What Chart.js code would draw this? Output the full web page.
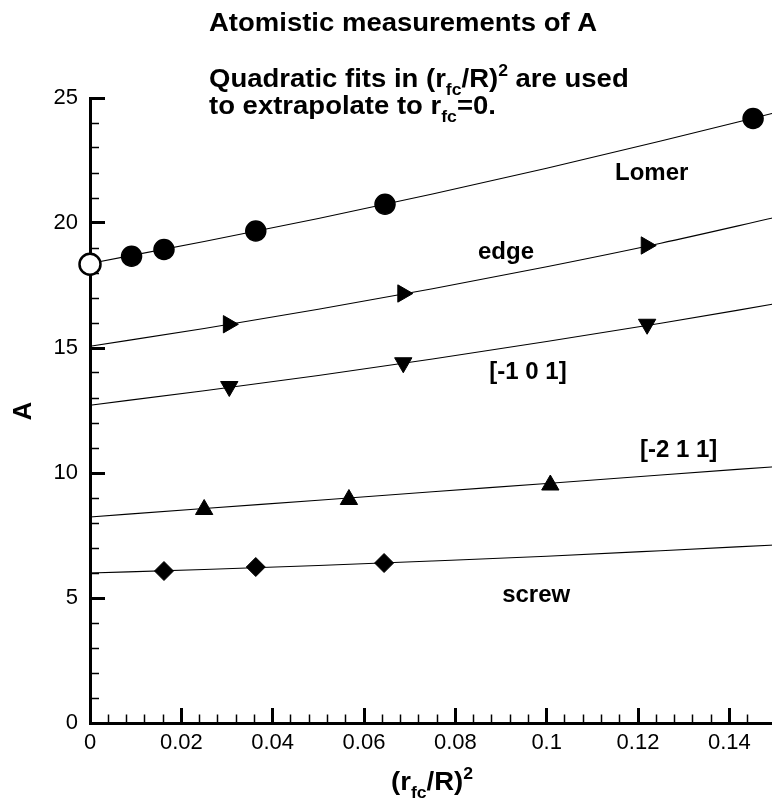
<!DOCTYPE html>
<html>
<head>
<meta charset="utf-8">
<title>Atomistic measurements of A</title>
<script src="https://cdn.jsdelivr.net/npm/chart.js@4.4.1/dist/chart.umd.min.js"></script>
<style>
  html, body { margin: 0; padding: 0; background: #fff; overflow: hidden; }
  #wrap { position: relative; width: 797px; height: 805px; }
</style>
</head>
<body>
<div id="wrap"><canvas id="chart"></canvas></div>
<script>
// ── measured points, x = (r_fc/R)^2 ──
const LOMER_X = [0.0091, 0.0162, 0.0363, 0.0646, 0.1452];
const LOMER_A = [18.67, 18.94, 19.68, 20.75, 24.18];
const LOMER_EXTRAP_X = [0];
const LOMER_EXTRAP_A = [18.35];
const EDGE_X = [0.0303, 0.0685, 0.1218];
const EDGE_A = [15.95, 17.18, 19.10];
const M101_X = [0.0305, 0.0686, 0.1220];
const M101_A = [13.46, 14.41, 15.95];
const M211_X = [0.0250, 0.0567, 0.1008];
const M211_A = [8.54, 8.94, 9.52];
const SCREW_X = [0.0162, 0.0363, 0.0644];
const SCREW_A = [6.08, 6.24, 6.40];

// ── quadratic fit curves ──
const FIT_X = [0, 0.025, 0.05, 0.075, 0.1, 0.125, 0.15];
const LOMER_FIT = [18.38, 19.26, 20.18, 21.16, 22.19, 23.28, 24.41];
const EDGE_FIT = [15.07, 15.78, 16.55, 17.37, 18.25, 19.19, 20.22];
const M101_FIT = [12.71, 13.29, 13.90, 14.56, 15.26, 15.99, 16.77];
const M211_FIT = [8.24, 8.58, 8.91, 9.25, 9.58, 9.92, 10.25];
const SCREW_FIT = [6.00, 6.14, 6.30, 6.48, 6.67, 6.89, 7.12];

// ── labels ──
const X_TICK_LABELS = ['0', '0.02', '0.04', '0.06', '0.08', '0.1', '0.12', '0.14'];
const Y_TICK_LABELS = ['0', '5', '10', '15', '20', '25'];
const CURVE_LABELS = ['Lomer', 'edge', '[-1 0 1]', '[-2 1 1]', 'screw'];

// where the curve labels sit (data coords, baseline centre)
const LABEL_AT = [
  { x: 0.1230, y: 21.71 },
  { x: 0.0911, y: 18.58 },
  { x: 0.0959, y: 13.78 },
  { x: 0.1289, y: 10.64 },
  { x: 0.0977, y: 4.84 },
];

const FONT = "'Liberation Sans', Arial, Helvetica, sans-serif";
const BLACK = '#000';

const pts = (xs, ys) => xs.map((x, i) => ({ x, y: ys[i] }));

function markers(xs, ys, style, extra) {
  return Object.assign({
    data: pts(xs, ys),
    showLine: false,
    pointStyle: style,
    pointRadius: 10,
    pointBorderWidth: 1,
    pointBackgroundColor: BLACK,
    pointBorderColor: BLACK,
    clip: false,
  }, extra || {});
}

function fitLine(ys) {
  return {
    data: pts(FIT_X, ys),
    showLine: true,
    borderColor: BLACK,
    borderWidth: 1.2,
    pointRadius: 0,
    cubicInterpolationMode: 'monotone',
    fill: false,
  };
}

// text with sub/superscripts: parts = [[text, 'sub'|'sup'|undefined], ...]
// sx stretches the glyphs sideways (the original font runs a bit wide)
function drawRich(ctx, x, y, parts, size, align, sx) {
  sx = sx || 1;
  const big = `bold ${size}px ${FONT}`;
  const small = `bold ${Math.round(size * 0.62)}px ${FONT}`;
  let total = 0;
  parts.forEach(p => { ctx.font = p[1] ? small : big; total += ctx.measureText(p[0]).width; });
  ctx.save();
  ctx.translate(align === 'center' ? x - total * sx / 2 : x, y);
  ctx.scale(sx, 1);
  let cx = 0;
  parts.forEach(p => {
    ctx.font = p[1] ? small : big;
    const dy = p[1] === 'sub' ? size * 0.3 : p[1] === 'sup' ? -size * 0.45 : 0;
    ctx.fillText(p[0], cx, dy);
    cx += ctx.measureText(p[0]).width;
  });
  ctx.restore();
}

const annotations = {
  id: 'annotations',
  afterDraw(chart) {
    const { ctx, scales: { x, y } } = chart;
    ctx.save();
    ctx.fillStyle = BLACK;
    ctx.textAlign = 'left';
    ctx.textBaseline = 'alphabetic';

    // title block
    drawRich(ctx, 209, 31, [['Atomistic measurements of A']], 25, 'left', 1.1);
    drawRich(ctx, 209, 87, [['Quadratic fits in (r'], ['fc', 'sub'], ['/R)'], ['2', 'sup'], [' are used']], 25, 'left', 1.1);
    drawRich(ctx, 209, 114, [['to extrapolate to r'], ['fc', 'sub'], ['=0.']], 25, 'left', 1.1);

    // curve labels
    ctx.font = `bold 24px ${FONT}`;
    ctx.textAlign = 'center';
    CURVE_LABELS.forEach((t, i) => {
      ctx.fillText(t, x.getPixelForValue(LABEL_AT[i].x), y.getPixelForValue(LABEL_AT[i].y));
    });

    // axis titles
    ctx.textAlign = 'left';
    drawRich(ctx, 432, 790, [['(r'], ['fc', 'sub'], ['/R)'], ['2', 'sup']], 25, 'center', 1.1);

    ctx.translate(24, 411);
    ctx.rotate(-Math.PI / 2);
    ctx.textAlign = 'center';
    ctx.textBaseline = 'middle';
    ctx.font = `bold 26px ${FONT}`;
    ctx.fillText('A', 0, 0);
    ctx.restore();
  }
};

new Chart(document.getElementById('chart'), {
  type: 'scatter',
  data: {
    datasets: [
      markers(LOMER_EXTRAP_X, LOMER_EXTRAP_A, 'circle', {
        pointRadius: 10.5, pointBorderWidth: 2.5, pointBackgroundColor: '#fff'
      }),
      markers(LOMER_X, LOMER_A, 'circle', { pointRadius: 10, pointBorderWidth: 1.5 }),
      markers(EDGE_X, EDGE_A, 'triangle', { pointRotation: 90 }),
      markers(M101_X, M101_A, 'triangle', { pointRotation: 180 }),
      markers(M211_X, M211_A, 'triangle'),
      markers(SCREW_X, SCREW_A, 'rectRot', { pointRadius: 9.5 }),
      fitLine(LOMER_FIT),
      fitLine(EDGE_FIT),
      fitLine(M101_FIT),
      fitLine(M211_FIT),
      fitLine(SCREW_FIT),
    ]
  },
  options: {
    responsive: true,
    maintainAspectRatio: false,
    animation: false,
    events: [],
    layout: { autoPadding: false, padding: { top: 98, right: 0, left: 0, bottom: 0 } },
    plugins: {
      legend: { display: false },
      tooltip: { enabled: false },
      title: { display: false }
    },
    scales: {
      x: {
        type: 'linear',
        min: 0,
        max: 0.15,
        afterFit: s => { s.height = 82; },
        border: { display: true, color: BLACK, width: 3 },
        grid: {
          drawOnChartArea: false,
          drawTicks: true,
          tickLength: -15,
          tickColor: BLACK,
          tickWidth: c => (c.index % 5 === 0 ? 3 : 1.5),
          tickBorderDash: c => (c.index % 5 === 0 ? [] : [10.5, 40]),
        },
        ticks: {
          stepSize: 0.004,
          maxTicksLimit: 100,
          autoSkip: false,
          maxRotation: 0,
          padding: 22,
          color: BLACK,
          font: { family: FONT, size: 22 },
          callback: (v, i) => (i % 5 === 0 ? (X_TICK_LABELS[i / 5] || '') : '')
        }
      },
      y: {
        type: 'linear',
        min: 0,
        max: 25,
        afterFit: s => { s.width = 90; },
        border: { display: true, color: BLACK, width: 3 },
        grid: {
          drawOnChartArea: false,
          drawTicks: true,
          tickLength: -15,
          tickColor: BLACK,
          tickWidth: c => (c.index % 5 === 0 ? 3 : 1.5),
          tickBorderDash: c => (c.index % 5 === 0 ? [] : [0, 6, 40]),
        },
        ticks: {
          stepSize: 1,
          maxTicksLimit: 100,
          autoSkip: false,
          padding: 27,
          color: BLACK,
          font: { family: FONT, size: 22 },
          callback: (v, i) => (i % 5 === 0 ? (Y_TICK_LABELS[i / 5] || '') : '')
        }
      }
    }
  },
  plugins: [annotations]
});
</script>
</body>
</html>
